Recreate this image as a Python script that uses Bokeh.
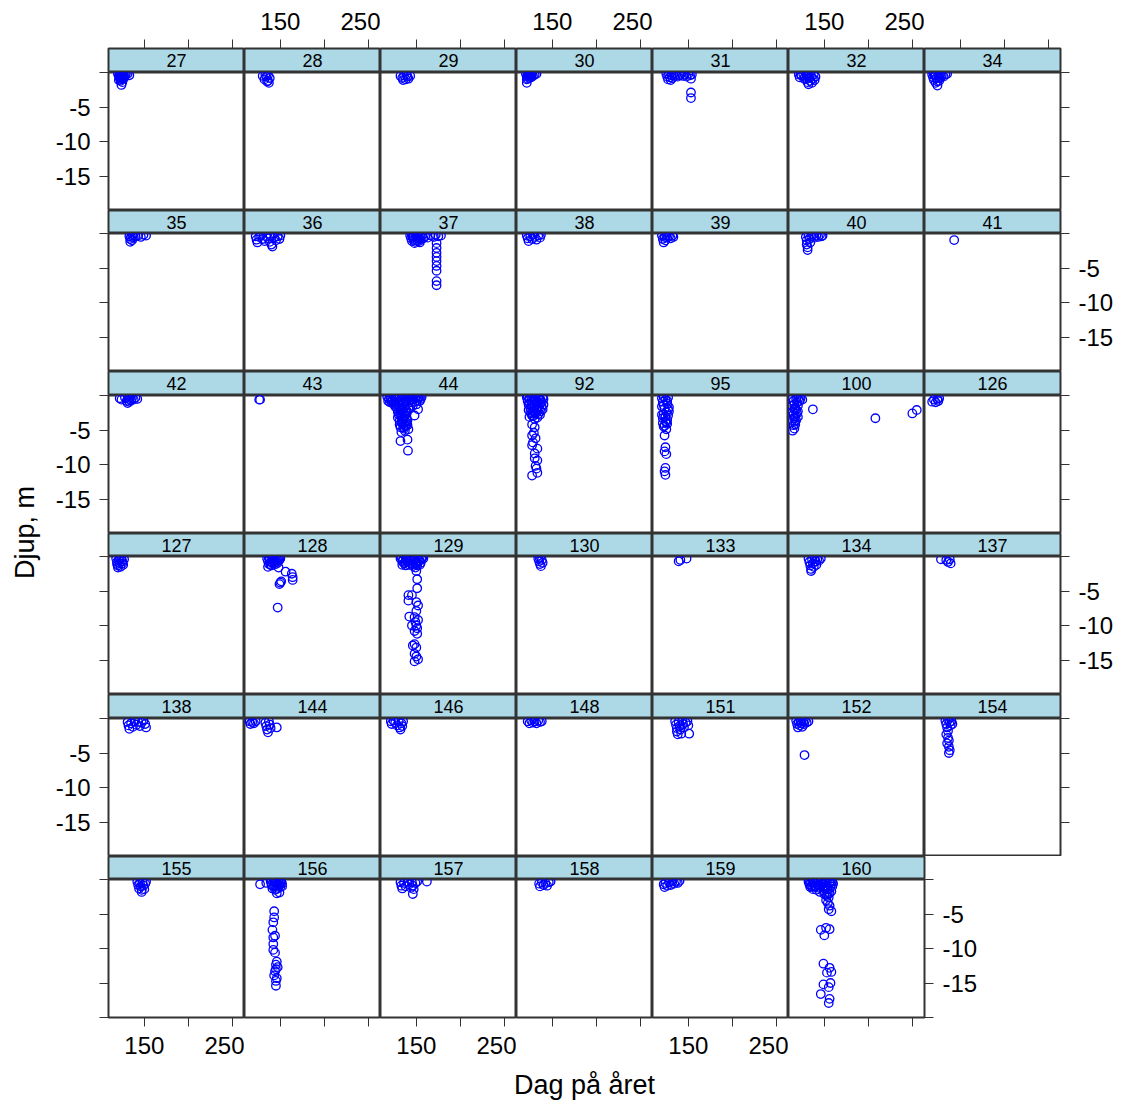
import math
from bokeh.plotting import figure
from bokeh.models import Range1d, LinearAxis, FixedTicker, Label, ColumnDataSource
from bokeh.layouts import row, column
from bokeh.embed import file_html
from bokeh.resources import INLINE

# ---------------- data ----------------
PANEL_IDS = [27, 28, 29, 30, 31, 32, 34,
             35, 36, 37, 38, 39, 40, 41,
             42, 43, 44, 92, 95, 100, 126,
             127, 128, 129, 130, 133, 134, 137,
             138, 144, 146, 148, 151, 152, 154,
             155, 156, 157, 158, 159, 160]

X_TICKS_LABELED = [150, 250]
X_TICKS_PLAIN = [200]
Y_TICKS_LABELED = [-5, -10, -15]
Y_TICKS_PLAIN = [0, -20]
X_LIMITS = (109.3, 263.8)
Y_LIMITS = (-20, 0)
X_TITLE = "Dag på året"
Y_TITLE = "Djup, m"

day_27 = [120, 121, 122, 122, 123, 123, 124, 124, 125, 125, 126, 126, 127, 128, 131, 133, 125, 124, 121, 123, 127, 129]
depth_27 = [-0.2, -0.5, -0.3, -0.8, -0.1, -0.6, -0.4, -1.0, -0.2, -0.7, -0.3, -0.9, -0.5, -0.3, -0.2, -0.4, -1.4, -1.8, -1.1, -1.2, -0.8, -0.2]
day_28 = [130, 132, 134, 136, 136, 138, 137, 135, 133]
depth_28 = [-0.5, -1.0, -0.6, -1.2, -0.4, -0.8, -1.5, -1.3, -0.3]
day_29 = [132, 134, 136, 138, 140, 141, 143, 135, 139]
depth_29 = [-0.5, -0.8, -0.4, -1.0, -0.6, -0.9, -0.5, -1.1, -0.3]
day_30 = [120, 121, 121, 121, 122, 123, 124, 125, 126, 127, 128, 130, 132, 122, 124, 126]
depth_30 = [-0.2, -0.6, -1.0, -1.5, -0.3, -0.5, -0.2, -0.4, -0.7, -0.2, -0.5, -0.3, -0.2, -0.9, -0.8, -0.3]
day_31 = [125, 126, 127, 128, 129, 130, 131, 132, 133, 134, 136, 138, 140, 142, 144, 146, 148, 150, 152, 153, 154, 153, 153]
depth_31 = [-0.2, -0.6, -1.0, -0.3, -0.7, -1.1, -0.4, -0.8, -0.2, -0.5, -0.3, -0.6, -0.4, -0.2, -0.5, -0.3, -0.6, -0.2, -0.4, -0.9, -0.3, -2.9, -3.7]
day_32 = [121, 122, 124, 126, 128, 129, 130, 131, 132, 133, 134, 135, 136, 137, 138, 139, 140, 123, 127, 131]
depth_32 = [-0.3, -0.7, -0.4, -0.2, -0.6, -1.0, -0.4, -1.4, -1.7, -0.8, -1.2, -0.5, -1.5, -0.9, -0.3, -1.1, -0.6, -0.2, -0.9, -0.2]
day_34 = [118, 119, 120, 121, 122, 123, 124, 125, 126, 127, 128, 129, 131, 133, 135, 120, 122, 124, 126]
depth_34 = [-0.3, -0.7, -1.1, -0.4, -1.5, -0.8, -1.9, -0.5, -1.2, -0.2, -0.7, -0.4, -0.6, -0.3, -0.2, -0.2, -0.4, -1.3, -0.8]

day_35 = [133, 134, 134, 135, 136, 137, 138, 140, 143, 146, 149, 152]
depth_35 = [-0.4, -0.8, -1.2, -0.5, -1.0, -0.3, -0.6, -0.4, -0.3, -0.5, -0.2, -0.3]
day_36 = [122, 123, 124, 126, 128, 130, 132, 134, 136, 138, 139, 140, 141, 143, 145, 147, 149, 150]
depth_36 = [-0.4, -0.9, -1.3, -0.5, -0.3, -0.8, -1.1, -0.4, -0.7, -1.2, -0.3, -1.6, -1.9, -0.6, -1.0, -0.4, -0.8, -0.3]
day_37 = [143, 144, 145, 146, 147, 148, 149, 150, 151, 152, 153, 154, 155, 157, 158, 160, 163, 166, 170, 172, 175, 178,
          173, 173, 173, 173, 173, 173, 173, 173, 173, 145, 147, 149, 151, 153, 155]
depth_37 = [-0.3, -0.7, -1.1, -0.4, -0.9, -1.4, -0.2, -0.6, -1.0, -0.3, -0.8, -1.3, -0.5, -0.2, -0.7, -0.4, -0.6, -0.3, -0.5, -0.2, -0.4, -0.3,
            -1.4, -2.1, -2.8, -3.4, -4.0, -4.7, -5.4, -6.9, -7.5, -0.2, -0.5, -1.2, -0.7, -1.1, -0.9]
day_38 = [121, 122, 123, 125, 127, 128, 130, 132, 134, 136, 137]
depth_38 = [-0.3, -0.7, -1.1, -0.4, -0.8, -0.2, -0.5, -0.9, -0.3, -0.6, -0.2]
day_39 = [120, 121, 122, 123, 124, 125, 126, 128, 130, 132, 133]
depth_39 = [-0.3, -0.8, -1.3, -0.5, -1.0, -0.3, -0.6, -0.4, -0.7, -0.3, -0.5]
day_40 = [129, 130, 130, 131, 131, 132, 133, 134, 135, 137, 139, 141, 143, 145, 147, 148]
depth_40 = [-0.5, -1.0, -1.6, -2.0, -2.4, -0.3, -0.8, -1.3, -0.4, -0.2, -0.6, -0.3, -0.5, -0.2, -0.4, -0.3]
day_41 = [143]
depth_41 = [-0.95]

day_42 = [122, 124, 128, 130, 131, 132, 133, 134, 135, 136, 138, 140, 142]
depth_42 = [-0.4, -0.6, -0.3, -0.8, -1.1, -0.5, -0.9, -0.3, -0.7, -0.4, -0.6, -0.3, -0.5]
day_43 = [126, 127]
depth_43 = [-0.6, -0.6]
day_44 = [117, 119, 121, 123, 125, 127, 129, 131, 133, 135, 137, 139, 141, 143, 145, 147, 149, 151, 153, 155, 156,
          124, 126, 128, 130, 132, 134, 136, 130, 133, 135, 137, 139, 131, 134, 138, 140, 132, 136, 141, 133, 137,
          139, 143, 146, 150, 152, 148, 132, 140, 140.5,
          118, 120, 122, 124, 126, 128, 130, 132, 134, 136, 138, 140, 142, 144, 146, 148, 150, 152, 154,
          127, 129, 131, 133, 135, 137, 139, 141, 129, 132, 135, 138, 131, 134, 137, 140, 133, 136, 139, 135, 138]
depth_44 = [-0.2, -0.5, -0.3, -0.7, -0.2, -0.5, -0.9, -0.3, -0.6, -1.0, -0.2, -0.5, -0.8, -0.3, -0.6, -0.2, -0.4, -0.7, -0.3, -0.5, -0.2,
            -1.2, -1.6, -1.9, -1.4, -2.2, -1.8, -2.5, -2.8, -3.1, -3.4, -2.9, -3.3, -3.7, -4.0, -3.8, -4.3, -4.6, -4.8, -4.9, -5.3, -5.1,
            -2.2, -1.8, -1.5, -1.3, -2.0, -2.9, -6.6, -6.4, -8.0,
            -0.8, -1.0, -0.9, -0.1, -1.1, -0.2, -0.1, -1.0, -0.2, -0.1, -0.8, -0.2, -0.1, -1.0, -0.1, -0.9, -0.1, -0.2, -0.8,
            -1.4, -2.4, -1.7, -2.1, -2.0, -1.6, -2.6, -1.9, -3.2, -2.7, -3.8, -2.4, -4.2, -3.0, -4.4, -3.6, -3.9, -3.3, -4.1, -4.6, -4.4]
day_92 = [121, 122, 123, 124, 125, 126, 127, 128, 129, 130, 131, 132, 133, 134, 135, 136, 137, 138, 139, 140, 128, 130, 126,
          127, 130, 129, 127, 131, 128, 127, 133, 130, 130, 133, 131, 132, 133, 127,
          122, 124, 126, 128, 130, 132, 134, 136, 138, 140, 123, 125, 127, 129, 131, 133, 135, 137, 139, 124, 127, 130, 133, 136]
depth_92 = [-0.3, -0.8, -1.3, -0.5, -1.8, -0.2, -1.0, -2.3, -0.6, -1.5, -0.3, -2.0, -0.9, -2.7, -0.4, -1.2, -0.7, -1.7, -0.3, -0.5, -3.0, -3.4, -2.6,
            -4.2, -4.6, -5.4, -5.8, -6.2, -6.8, -7.2, -7.7, -8.4, -9.1, -9.4, -10.2, -10.6, -11.2, -11.6,
            -0.1, -1.1, -1.4, -0.1, -0.8, -1.2, -0.2, -0.6, -1.0, -1.3, -2.1, -2.4, -1.6, -1.9, -2.6, -2.2, -1.8, -2.3, -2.0, -3.1, -2.9, -2.5, -3.2, -2.8]
day_95 = [120, 121, 122, 123, 124, 125, 126, 127, 121, 124, 126, 122, 125, 127, 128, 123, 124, 123, 125, 124, 123, 124,
          120, 122, 124, 126, 128, 121, 123, 125, 127, 120, 122, 126]
depth_95 = [-0.4, -0.9, -1.4, -1.9, -0.6, -2.4, -1.2, -2.9, -3.3, -3.7, -4.1, -4.5, -4.9, -0.3, -1.7, -5.8, -7.5, -8.1, -8.5, -10.5, -11.0, -11.5,
            -1.6, -2.7, -3.1, -3.5, -2.3, -4.0, -4.4, -3.9, -2.0, -2.8, -0.2, -0.8]
day_100 = [114, 115, 116, 117, 114, 115, 116, 117, 115, 116, 114, 118, 119, 120, 121, 122, 118, 119, 120, 118, 117, 123, 125,
           137, 208, 250, 255, 113, 114, 116, 117, 119, 120]
depth_100 = [-0.3, -0.8, -1.3, -1.8, -2.3, -2.8, -3.3, -3.8, -4.3, -4.8, -5.1, -0.5, -1.0, -1.5, -0.3, -0.8, -2.0, -2.6, -3.1, -3.6, -4.2, -0.4, -0.6,
             -2.0, -3.3, -2.6, -2.1, -1.5, -3.6, -2.0, -3.0, -0.2, -2.3]
day_126 = [118, 120, 122, 124, 126, 125]
depth_126 = [-0.9, -0.6, -1.0, -0.5, -0.4, -0.8]

day_127 = [118, 119, 120, 121, 122, 123, 124, 125, 126, 127, 120, 119, 122, 125]
depth_127 = [-0.3, -0.8, -1.3, -0.5, -1.0, -1.5, -0.3, -0.7, -1.2, -0.4, -1.6, -1.1, -0.2, -1.0]
day_128 = [135, 136, 137, 138, 139, 140, 141, 142, 143, 144, 145, 146, 147, 148, 149, 150, 136, 148, 156, 163, 164, 164, 151, 149, 150, 147,
           137, 139, 141, 143, 145, 147]
depth_128 = [-0.3, -0.7, -1.1, -0.4, -0.8, -1.3, -0.3, -0.6, -1.0, -0.4, -0.8, -0.3, -0.6, -0.3, -0.5, -0.3, -1.5, -1.6, -2.2, -2.5, -3.0, -3.4, -3.6, -4.0, -3.8, -7.4,
             -0.1, -1.2, -0.9, -0.2, -1.1, -0.9]
day_129 = [132, 134, 136, 138, 140, 142, 144, 146, 148, 150, 152, 154, 156, 158, 151, 149,
           150, 151, 151, 141, 145, 150, 141, 152, 150, 142, 148, 152, 145, 150, 148, 151, 148, 150, 148, 152,
           149, 151, 146, 150, 148,
           133, 135, 137, 139, 141, 143, 145, 147, 149, 151, 153, 155, 157, 134, 138, 142, 146, 150, 154]
depth_129 = [-0.3, -0.7, -1.0, -0.4, -0.8, -0.3, -0.6, -1.1, -0.4, -0.8, -0.3, -0.6, -0.4, -0.3, -1.3, -1.6,
             -2.1, -3.3, -4.6, -5.6, -5.6, -6.6, -6.4, -7.1, -7.9, -8.7, -8.8, -9.2, -10.0, -10.0, -10.8, -11.2, -12.7, -13.2, -14.1, -14.9,
             -9.5, -10.4, -12.9, -14.5, -15.2,
             -0.1, -0.5, -0.9, -0.2, -0.6, -1.0, -0.2, -0.5, -0.9, -0.1, -0.6, -0.9, -0.1, -1.2, -1.3, -1.2, -1.4, -1.1, -1.2]
day_130 = [134, 135, 136, 137, 138, 139, 136]
depth_130 = [-0.3, -0.7, -1.1, -1.4, -0.5, -0.9, -0.2]
day_133 = [139, 141, 148]
depth_133 = [-0.7, -0.5, -0.3]
day_134 = [132, 133, 134, 135, 136, 137, 138, 139, 140, 141, 142, 144, 146, 135]
depth_134 = [-0.3, -0.8, -1.3, -1.8, -0.4, -1.0, -1.5, -0.3, -0.7, -1.2, -0.4, -0.6, -0.3, -2.1]
day_137 = [128, 134, 136, 139, 138]
depth_137 = [-0.4, -0.5, -0.8, -1.0, -0.4]

day_138 = [131, 132, 133, 135, 137, 139, 141, 143, 145, 147, 149, 151, 152]
depth_138 = [-0.5, -1.0, -1.5, -0.7, -1.2, -0.4, -0.9, -0.5, -1.1, -0.6, -0.3, -0.8, -1.3]
day_144 = [115, 116, 118, 120, 122, 133, 134, 135, 136, 137, 138, 139, 146]
depth_144 = [-0.4, -0.8, -0.5, -0.7, -0.4, -0.6, -1.1, -1.6, -2.0, -0.4, -0.9, -1.4, -1.3]
day_146 = [121, 122, 124, 126, 128, 130, 131, 132, 133, 134, 135]
depth_146 = [-0.4, -0.8, -0.3, -0.6, -1.0, -0.4, -1.3, -1.6, -0.7, -1.1, -0.4]
day_148 = [122, 124, 126, 128, 130, 132, 134, 136, 138]
depth_148 = [-0.4, -0.7, -0.3, -0.6, -0.4, -0.7, -0.3, -0.5, -0.4]
day_151 = [135, 136, 137, 137, 138, 139, 140, 141, 142, 143, 144, 145, 147, 149, 150, 151]
depth_151 = [-0.4, -0.9, -1.4, -1.9, -2.3, -0.5, -1.1, -1.6, -2.2, -0.3, -0.8, -1.3, -0.6, -0.4, -1.0, -2.2]
day_152 = [118, 119, 120, 121, 122, 123, 124, 125, 126, 127, 128, 130, 132, 127.5]
depth_152 = [-0.3, -0.8, -1.3, -0.5, -1.0, -0.3, -0.7, -1.2, -0.4, -0.8, -0.3, -0.6, -0.4, -5.3]
day_154 = [133, 134, 135, 136, 134, 136, 137, 135, 137, 138, 137, 138, 139, 140, 141, 136]
depth_154 = [-0.3, -0.8, -1.3, -1.8, -2.3, -2.8, -3.2, -3.6, -4.1, -4.6, -5.0, -0.5, -1.0, -0.4, -0.8, -0.2]

day_155 = [142, 143, 144, 145, 146, 147, 148, 149, 150, 151, 152, 147]
depth_155 = [-0.3, -0.8, -1.3, -0.5, -1.0, -1.5, -0.4, -0.9, -1.4, -0.6, -0.3, -1.8]
day_156 = [127, 134, 139, 140, 141, 142, 143, 144, 145, 146, 147, 148, 149, 150, 151, 152, 146, 149,
           143, 143, 142, 141, 144, 142, 142, 142, 146, 145, 147, 144, 143, 146, 145, 145, 144, 145,
           140, 142, 144, 146, 148, 150, 152]
depth_156 = [-0.7, -0.5, -0.3, -0.8, -1.3, -0.4, -0.9, -1.5, -0.3, -0.7, -1.2, -0.4, -0.8, -1.1, -0.3, -0.6, -2.0, -1.9,
             -4.6, -5.5, -6.2, -7.3, -8.15, -8.4, -9.35, -10.2, -11.9, -12.35, -12.7, -13.3, -13.9, -14.3, -14.7, -15.4, -10.6, -13.0,
             -0.1, -1.0, -0.2, -1.4, -0.1, -0.5, -1.0]
day_157 = [132, 133, 134, 136, 138, 140, 142, 144, 145, 146, 147, 149, 151, 146, 162]
depth_157 = [-0.4, -0.9, -1.3, -0.5, -1.0, -0.3, -0.7, -1.2, -0.4, -0.9, -1.4, -0.5, -0.3, -2.1, -0.3]
day_158 = [135, 136, 138, 140, 142, 144, 146, 148]
depth_158 = [-0.6, -1.0, -0.4, -0.8, -0.5, -0.9, -0.4, -0.3]
day_159 = [122, 123, 124, 126, 128, 130, 132, 134, 136, 138, 140]
depth_159 = [-0.7, -1.1, -0.5, -0.9, -0.4, -0.8, -0.3, -0.6, -0.3, -0.5, -0.2]
day_160 = [132, 133, 134, 135, 136, 137, 138, 139, 140, 141, 142, 143, 144, 145, 146, 147, 148, 149, 150, 151, 152, 153,
           154, 155, 156, 157, 158, 159, 160, 152, 154, 156, 155, 158, 153,
           152, 146, 156, 150, 149, 156, 153, 158, 149, 157, 155, 146, 156, 155,
           133, 135, 137, 139, 141, 143, 145, 147, 149, 151, 153, 155, 157, 159, 150, 152, 154, 156, 158]
depth_160 = [-0.3, -0.7, -1.1, -0.4, -0.9, -1.4, -0.3, -0.6, -1.0, -1.5, -0.4, -0.8, -1.2, -1.8, -0.3, -0.7, -1.1, -1.6, -2.1, -0.4, -0.9, -1.4,
             -2.0, -2.6, -0.5, -1.0, -1.7, -0.3, -0.6, -3.0, -3.4, -3.8, -4.3, -4.6, -2.4,
             -7.0, -7.3, -7.2, -8.1, -12.2, -12.8, -13.5, -13.4, -15.2, -15.0, -15.6, -16.6, -17.3, -17.9,
             -0.1, -1.0, -0.2, -1.1, -0.2, -0.1, -0.9, -0.1, -0.6, -1.3, -0.1, -1.4, -0.2, -1.0, -1.3, -2.2, -1.0, -2.0, -0.6]

PANEL_DATA = {
    27: (day_27, depth_27), 28: (day_28, depth_28), 29: (day_29, depth_29), 30: (day_30, depth_30),
    31: (day_31, depth_31), 32: (day_32, depth_32), 34: (day_34, depth_34),
    35: (day_35, depth_35), 36: (day_36, depth_36), 37: (day_37, depth_37), 38: (day_38, depth_38),
    39: (day_39, depth_39), 40: (day_40, depth_40), 41: (day_41, depth_41),
    42: (day_42, depth_42), 43: (day_43, depth_43), 44: (day_44, depth_44), 92: (day_92, depth_92),
    95: (day_95, depth_95), 100: (day_100, depth_100), 126: (day_126, depth_126),
    127: (day_127, depth_127), 128: (day_128, depth_128), 129: (day_129, depth_129), 130: (day_130, depth_130),
    133: (day_133, depth_133), 134: (day_134, depth_134), 137: (day_137, depth_137),
    138: (day_138, depth_138), 144: (day_144, depth_144), 146: (day_146, depth_146), 148: (day_148, depth_148),
    151: (day_151, depth_151), 152: (day_152, depth_152), 154: (day_154, depth_154),
    155: (day_155, depth_155), 156: (day_156, depth_156), 157: (day_157, depth_157), 158: (day_158, depth_158),
    159: (day_159, depth_159), 160: (day_160, depth_160),
}

# ---------------- style / geometry ----------------
N_COLS = 7
FONT = "Liberation Sans"
STRIP_FILL = "#ADD8E6"
POINT_COLOR = "#0000FF"
BORDER_COLOR = "#333333"
PANEL_W = 136
PANEL_H = 138
STRIP_H = [24, 23, 24, 23, 24, 23]
LEFT_B = 60
RIGHT_B = 62
TOP_B = 48
BOTTOM_B = 48
YLAB_W = 48
XLAB_H = 38
TICK_LEN = 9
TICK_FONT = "24px"
STRIP_FONT = "18px"
TITLE_FONT = "27px"

n_rows = math.ceil(len(PANEL_IDS) / N_COLS)
x_rng = Range1d(*X_LIMITS)
y_rng = Range1d(*Y_LIMITS)


def base_fig(width, height, x_range, y_range, left=0, right=0, top=0, bottom=0):
    p = figure(width=width, height=height, x_range=x_range, y_range=y_range,
               output_backend="svg", toolbar_location=None,
               x_axis_location=None, y_axis_location=None, title_location=None,
               min_border=0, min_border_left=left, min_border_right=right,
               min_border_top=top, min_border_bottom=bottom)
    p.xgrid.visible = False
    p.ygrid.visible = False
    p.background_fill_color = "white"
    p.border_fill_color = "white"
    p.outline_line_color = BORDER_COLOR
    p.outline_line_width = 2
    return p


def add_axis(p, side, labeled, standoff):
    if side in ("left", "right"):
        lab, plain = Y_TICKS_LABELED, Y_TICKS_PLAIN
    else:
        lab, plain = X_TICKS_LABELED, X_TICKS_PLAIN
    if labeled:
        ticker = FixedTicker(ticks=lab, minor_ticks=plain)
    else:
        ticker = FixedTicker(ticks=[], minor_ticks=sorted(lab + plain))
    ax = LinearAxis(ticker=ticker, axis_line_color=None,
                    major_tick_in=0, major_tick_out=TICK_LEN,
                    minor_tick_in=0, minor_tick_out=TICK_LEN,
                    major_tick_line_color=BORDER_COLOR, minor_tick_line_color=BORDER_COLOR,
                    major_tick_line_width=1, minor_tick_line_width=1,
                    major_label_text_font=FONT, major_label_text_font_size=TICK_FONT,
                    major_label_text_color="black", major_label_standoff=standoff,
                    major_label_overrides={v: str(v) for v in lab})
    p.add_layout(ax, side)


row_layouts = []
for r in range(n_rows):
    ids = PANEL_IDS[r * N_COLS:(r + 1) * N_COLS]
    last_c = len(ids) - 1
    cells = []
    for c, pid in enumerate(ids):
        left = LEFT_B if c == 0 else 0
        right = RIGHT_B if c == last_c else 0
        top = TOP_B if r == 0 else 0
        bottom = BOTTOM_B if r == n_rows - 1 else 0
        w = left + PANEL_W + right

        # strip
        s = base_fig(w, top + STRIP_H[r], x_rng, Range1d(0, 1), left=left, right=right, top=top)
        s.background_fill_color = STRIP_FILL
        s.add_layout(Label(x=(X_LIMITS[0] + X_LIMITS[1]) / 2, y=0.5, text=str(pid),
                           text_align="center", text_baseline="middle",
                           text_font=FONT, text_font_size=STRIP_FONT, text_color="black"))
        if r == 0:
            add_axis(s, "above", c % 2 == 1, 10)

        # panel
        p = base_fig(w, PANEL_H + bottom, x_rng, y_rng, left=left, right=right, bottom=bottom)
        days, depths = PANEL_DATA[pid]
        src = ColumnDataSource(dict(day=days, depth=depths))
        p.scatter(x="day", y="depth", source=src, marker="circle", size=8.5,
                  fill_color=None, line_color=POINT_COLOR, line_width=1.3)
        if c == 0:
            add_axis(p, "left", r % 2 == 0, 9)
        if c == last_c:
            add_axis(p, "right", r % 2 == 1, 9)
        if r == n_rows - 1:
            add_axis(p, "below", c % 2 == 0, 10)

        cells.append(column(s, p))
    row_layouts.append(row(*cells))

grid = column(*row_layouts)
grid_h = TOP_B + sum(STRIP_H) + n_rows * PANEL_H + BOTTOM_B
grid_w = LEFT_B + N_COLS * PANEL_W + RIGHT_B

ylab = base_fig(YLAB_W, grid_h, Range1d(0, YLAB_W), Range1d(0, grid_h))
ylab.outline_line_color = None
ylab.add_layout(Label(x=24, y=grid_h - 532, text=Y_TITLE, angle=math.pi / 2,
                      text_align="center", text_baseline="middle",
                      text_font=FONT, text_font_size=TITLE_FONT, text_color="black"))

xlab = base_fig(YLAB_W + grid_w, XLAB_H, Range1d(0, YLAB_W + grid_w), Range1d(0, XLAB_H))
xlab.outline_line_color = None
xlab.add_layout(Label(x=584, y=XLAB_H / 2, text=X_TITLE,
                      text_align="center", text_baseline="middle",
                      text_font=FONT, text_font_size=TITLE_FONT, text_color="black"))

layout = column(row(ylab, grid), xlab)

with open("out.html", "w") as f:
    f.write(file_html(layout, INLINE, "Djup"))
